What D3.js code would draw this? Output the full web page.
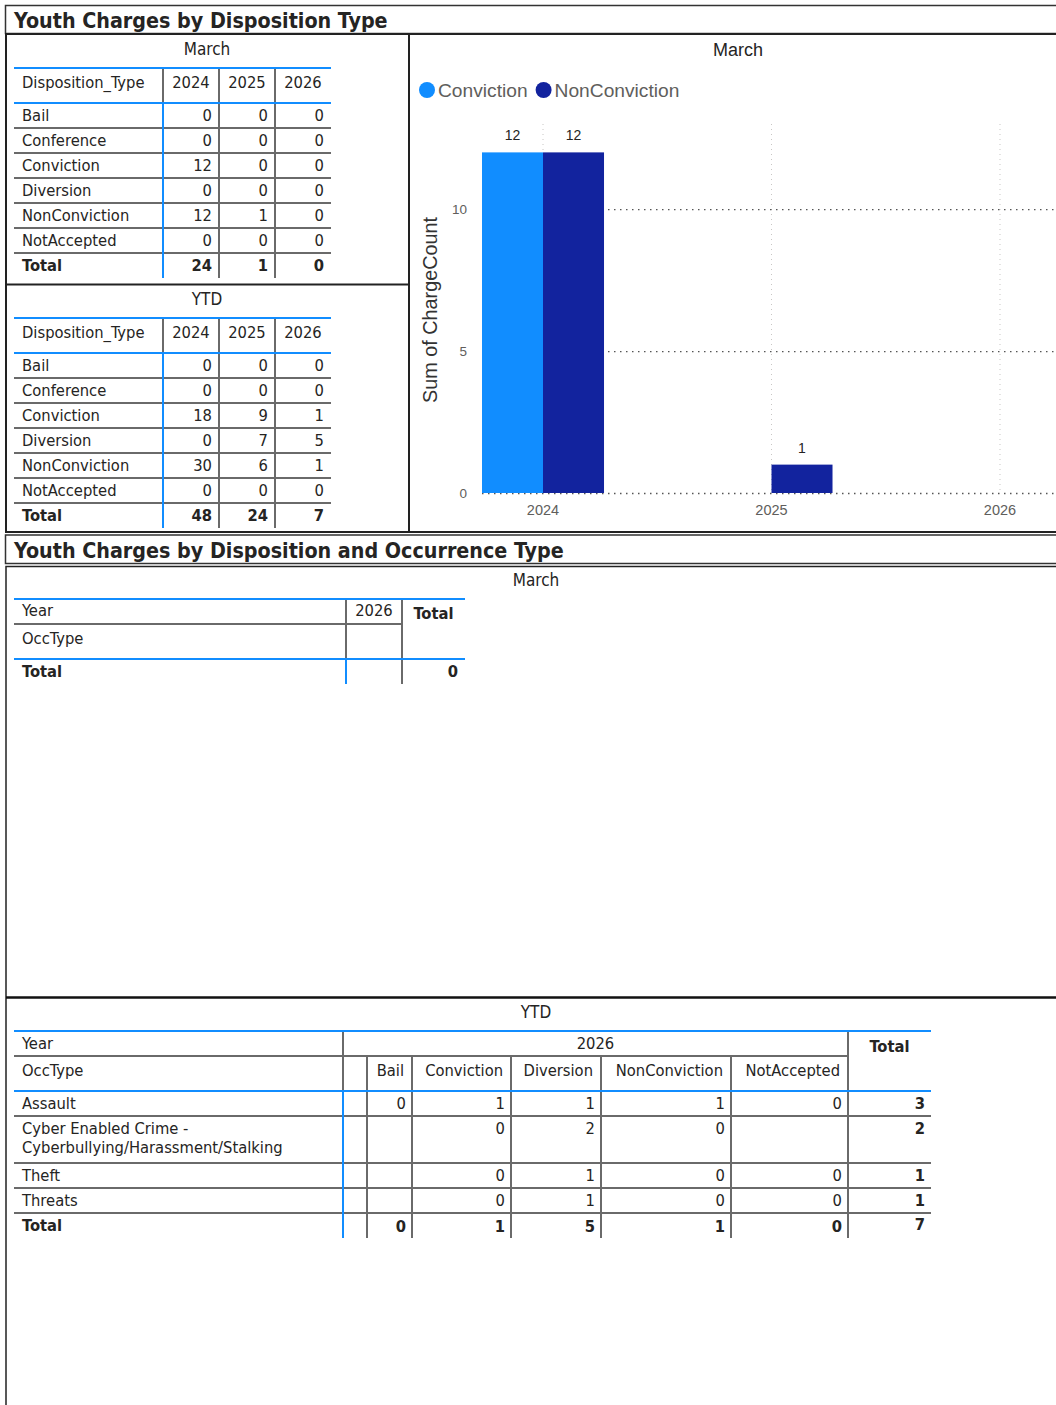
<!DOCTYPE html>
<html>
<head>
<meta charset="utf-8">
<script src="https://cdn.jsdelivr.net/npm/d3@7"></script>
<style>
  body { margin: 0; background: #fff; }
  svg { display: block; }
</style>
</head>
<body>
<div id="chart"></div>
<script>
// data
const dispTypes = ["Bail", "Conference", "Conviction", "Diversion", "NonConviction", "NotAccepted"];
const years = ["2024", "2025", "2026"];
const marchValues = [[0, 0, 0], [0, 0, 0], [12, 0, 0], [0, 0, 0], [12, 1, 0], [0, 0, 0]];
const marchTotals = [24, 1, 0];
const ytdValues = [[0, 0, 0], [0, 0, 0], [18, 9, 1], [0, 7, 5], [30, 6, 1], [0, 0, 0]];
const ytdTotals = [48, 24, 7];

const chartSeries = ["Conviction", "NonConviction"];
const chartYears = ["2024", "2025", "2026"];
const convictionCounts = [12, null, null];
const nonConvictionCounts = [12, 1, null];
const yTicks = [0, 5, 10];

const occTypes = [["Assault"], ["Cyber Enabled Crime -", "Cyberbullying/Harassment/Stalking"], ["Theft"], ["Threats"]];
const occCols = ["", "Bail", "Conviction", "Diversion", "NonConviction", "NotAccepted"];
const occValues = [
  [null, 0, 1, 1, 1, 0],
  [null, null, 0, 2, 0, null],
  [null, null, 0, 1, 0, 0],
  [null, null, 0, 1, 0, 0]
];
const occRowTotals = [3, 2, 1, 1];
const occColTotals = [null, 0, 1, 5, 1, 0];
const occGrandTotal = 7;

const W = 1056, H = 1405;
const TXT = "#252423", GREY = "#605E5C", BLUE = "#118DFF", LINE = "#6a6a6a";
const tfont = "'DejaVu Sans Condensed', 'DejaVu Sans', Verdana, sans-serif";
const cfont = "'Liberation Sans', Arial, sans-serif";

const svg = d3.select("#chart").append("svg").attr("width", W).attr("height", H);
svg.append("rect").attr("width", W).attr("height", H).attr("fill", "#fff");

function hline(g, x1, x2, y, col, w) {
  g.append("line").attr("x1", x1).attr("x2", x2).attr("y1", y).attr("y2", y)
    .attr("stroke", col).attr("stroke-width", w || 2);
}
function vline(g, x, y1, y2, col, w) {
  g.append("line").attr("x1", x).attr("x2", x).attr("y1", y1).attr("y2", y2)
    .attr("stroke", col).attr("stroke-width", w || 2);
}
function txt(g, x, y, s, o = {}) {
  return g.append("text").attr("x", x).attr("y", y)
    .attr("font-family", o.family || tfont)
    .attr("font-size", o.size || 16.4)
    .attr("font-weight", o.bold ? "bold" : "normal")
    .attr("text-anchor", o.anchor || "start")
    .attr("fill", o.fill || TXT)
    .text(s);
}

// frames
const frame = svg.append("g").attr("fill", "none");
frame.append("rect").attr("x", 5.5).attr("y", 5.5).attr("width", 1100).attr("height", 28)
  .attr("stroke", "#333").attr("stroke-width", 1.5);
frame.append("rect").attr("x", 6).attr("y", 34).attr("width", 403).attr("height", 498)
  .attr("stroke", "#222").attr("stroke-width", 2);
hline(frame, 6, 409, 284.5, "#222", 2);
frame.append("rect").attr("x", 409).attr("y", 34).attr("width", 700).attr("height", 498)
  .attr("stroke", "#222").attr("stroke-width", 2);
frame.append("rect").attr("x", 5.5).attr("y", 535).attr("width", 1100).attr("height", 28.5)
  .attr("stroke", "#333").attr("stroke-width", 1.5);
frame.append("rect").attr("x", 6).attr("y", 566.5).attr("width", 1100).attr("height", 860)
  .attr("stroke", "#222").attr("stroke-width", 1.5);
hline(frame, 6, 1056, 997.5, "#111", 2.5);

txt(svg, 14, 28, "Youth Charges by Disposition Type", { bold: true, size: 21.3 });
txt(svg, 14, 558, "Youth Charges by Disposition and Occurrence Type", { bold: true, size: 21.3 });

// disposition tables (left)
function dispTable(y0, title, values, totals) {
  const g = svg.append("g");
  const cols = [14, 163, 219, 275, 331];
  const top = y0 + 33, hh = 35, rh = 25;
  const bodyTop = top + hh;
  const bottom = bodyTop + rh * (dispTypes.length + 1);
  txt(g, 207, y0 + 20, title, { size: 17, anchor: "middle" });

  txt(g, 22, top + 20, "Disposition_Type");
  years.forEach((yr, j) => txt(g, (cols[j + 1] + cols[j + 2]) / 2, top + 20, yr, { anchor: "middle" }));

  dispTypes.forEach((d, i) => {
    const ty = bodyTop + rh * i + 18;
    txt(g, 22, ty, d);
    values[i].forEach((v, j) => txt(g, cols[j + 2] - 7, ty, v, { anchor: "end" }));
    if (i > 0) hline(g, cols[0], cols[4], bodyTop + rh * i, LINE);
  });
  const tty = bodyTop + rh * dispTypes.length;
  hline(g, cols[0], cols[4], tty, LINE);
  txt(g, 22, tty + 18, "Total", { bold: true });
  totals.forEach((v, j) => txt(g, cols[j + 2] - 7, tty + 18, v, { anchor: "end", bold: true }));

  vline(g, cols[1], top, bodyTop, LINE);
  vline(g, cols[1], bodyTop, bottom, BLUE);
  vline(g, cols[2], top, bottom, LINE);
  vline(g, cols[3], top, bottom, LINE);
  hline(g, cols[0], cols[4], top, BLUE);
  hline(g, cols[0], cols[4], bodyTop, BLUE);
}
dispTable(35, "March", marchValues, marchTotals);
dispTable(285, "YTD", ytdValues, ytdTotals);

// clustered column chart
const chart = svg.append("g");
const seriesValues = [convictionCounts, nonConvictionCounts];
const colors = d3.scaleOrdinal().domain(chartSeries).range(["#118DFF", "#12239E"]);
const x0 = d3.scaleBand().domain(chartYears).range([482, 1061]).paddingInner(0.466).paddingOuter(0);
const x1 = d3.scaleBand().domain(chartSeries).range([0, x0.bandwidth()]);
const y = d3.scaleLinear().domain([0, 13]).range([493, 124]);

chart.append("clipPath").attr("id", "clip").append("rect")
  .attr("x", 410).attr("y", 35).attr("width", 646).attr("height", 496);
const plot = chart.append("g").attr("clip-path", "url(#clip)");

txt(chart, 738, 56, "March", { family: cfont, size: 18, anchor: "middle" });

// legend
let lx = 419;
chartSeries.forEach((s) => {
  chart.append("circle").attr("cx", lx + 8).attr("cy", 90).attr("r", 8).attr("fill", colors(s));
  const t = txt(chart, lx + 19, 97, s, { family: cfont, size: 19.2, fill: GREY });
  lx += 19 + t.node().getComputedTextLength() + 8;
});

// grid
plot.selectAll(".vg").data(chartYears).join("line")
  .attr("x1", (d) => x0(d) + x0.bandwidth() / 2).attr("x2", (d) => x0(d) + x0.bandwidth() / 2)
  .attr("y1", y(13)).attr("y2", y(0))
  .attr("stroke", "#c8c6c4").attr("stroke-width", 1).attr("stroke-dasharray", "1,4");
plot.selectAll(".hg").data(yTicks).join("line")
  .attr("x1", x0.range()[0]).attr("x2", 1060)
  .attr("y1", (d) => y(d) + 0.5).attr("y2", (d) => y(d) + 0.5)
  .attr("stroke", "#555").attr("stroke-width", 1.3).attr("stroke-dasharray", "1.5,4.5");

// bars
const bars = [];
chartYears.forEach((yr, i) => chartSeries.forEach((s, k) => {
  const v = seriesValues[k][i];
  if (v != null) bars.push({ yr, s, v });
}));
plot.selectAll(".bar").data(bars).join("rect")
  .attr("x", (d) => x0(d.yr) + x1(d.s)).attr("width", x1.bandwidth())
  .attr("y", (d) => y(d.v)).attr("height", (d) => y(0) - y(d.v))
  .attr("fill", (d) => colors(d.s));
plot.selectAll(".lab").data(bars).join("text")
  .attr("x", (d) => x0(d.yr) + x1(d.s) + x1.bandwidth() / 2)
  .attr("y", (d) => y(d.v) - 12)
  .attr("text-anchor", "middle").attr("font-family", cfont).attr("font-size", 14)
  .attr("fill", TXT).text((d) => d.v);

// axes labels
yTicks.forEach((t) => txt(chart, 467, y(t) + 5, t, { family: cfont, size: 13.5, anchor: "end", fill: GREY }));
chartYears.forEach((yr) => txt(chart, x0(yr) + x0.bandwidth() / 2, 515, yr, { family: cfont, size: 14.5, anchor: "middle", fill: GREY }));
chart.append("text").attr("transform", "translate(437,310) rotate(-90)")
  .attr("text-anchor", "middle").attr("font-family", cfont).attr("font-size", 19.8)
  .attr("fill", "#333").text("Sum of ChargeCount");

// March matrix (empty)
{
  const g = svg.append("g");
  txt(g, 536, 586, "March", { size: 17, anchor: "middle" });
  const cols = [14, 346, 402, 465];
  hline(g, cols[0], cols[2], 624, LINE);
  txt(g, 22, 616, "Year");
  txt(g, (cols[1] + cols[2]) / 2, 616, "2026", { anchor: "middle" });
  txt(g, (cols[2] + cols[3]) / 2, 619, "Total", { anchor: "middle", bold: true });
  txt(g, 22, 644, "OccType");
  txt(g, 22, 677, "Total", { bold: true });
  txt(g, cols[3] - 7, 677, 0, { anchor: "end", bold: true });
  vline(g, cols[1], 599, 659, LINE);
  vline(g, cols[1], 659, 684, BLUE);
  vline(g, cols[2], 599, 684, LINE);
  hline(g, cols[0], cols[3], 599, BLUE);
  hline(g, cols[0], cols[3], 659, BLUE);
}

// YTD matrix
{
  const g = svg.append("g");
  txt(g, 536, 1018, "YTD", { size: 17, anchor: "middle" });
  const cols = [14, 343, 367, 412, 511, 601, 731, 848, 931];
  const top = 1031, r1 = 1056, bodyTop = 1091;
  const rowH = occTypes.map((l) => 25 + (l.length - 1) * 22);

  txt(g, 22, 1049, "Year");
  txt(g, (cols[1] + cols[7]) / 2, 1049, "2026", { anchor: "middle" });
  txt(g, (cols[7] + cols[8]) / 2, 1052, "Total", { anchor: "middle", bold: true });
  txt(g, 22, 1076, "OccType");
  occCols.forEach((c, j) => txt(g, cols[j + 2] - 8, 1076, c, { anchor: "end" }));

  let ry = bodyTop;
  occTypes.forEach((lines, i) => {
    if (i > 0) hline(g, cols[0], cols[8], ry, LINE);
    lines.forEach((l, k) => txt(g, 22, ry + 18 + k * 19, l));
    occValues[i].forEach((v, j) => { if (v != null) txt(g, cols[j + 2] - 6, ry + 18, v, { anchor: "end" }); });
    txt(g, cols[8] - 6, ry + 18, occRowTotals[i], { anchor: "end", bold: true });
    ry += rowH[i];
  });
  hline(g, cols[0], cols[8], ry, LINE);
  txt(g, 22, ry + 18, "Total", { bold: true });
  occColTotals.forEach((v, j) => { if (v != null) txt(g, cols[j + 2] - 6, ry + 19, v, { anchor: "end", bold: true }); });
  txt(g, cols[8] - 6, ry + 17, occGrandTotal, { anchor: "end", bold: true });
  const bottom = ry + 25;

  hline(g, cols[0], cols[7], r1, LINE);
  vline(g, cols[1], top, bodyTop, LINE);
  vline(g, cols[1], bodyTop, bottom, BLUE);
  for (let j = 2; j <= 6; j++) vline(g, cols[j], r1, bottom, LINE);
  vline(g, cols[7], top, bottom, LINE);
  hline(g, cols[0], cols[8], top, BLUE);
  hline(g, cols[0], cols[8], bodyTop, BLUE);
}
</script>
</body>
</html>
